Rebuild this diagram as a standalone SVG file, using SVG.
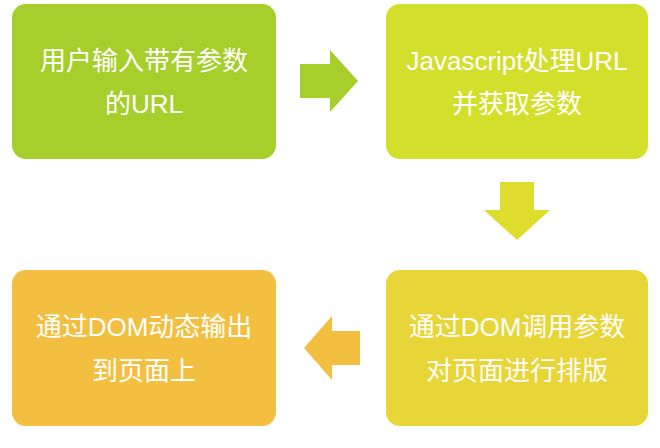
<svg xmlns="http://www.w3.org/2000/svg" width="660" height="448" viewBox="0 0 660 448">
<style>
text{font-family:"Liberation Sans","Noto Sans CJK SC",sans-serif;font-size:26px;fill:#fff;text-anchor:middle}
</style>
<rect width="660" height="448" fill="#fff"/>
<g id="n1"><rect x="12" y="4" width="264" height="155" rx="14" fill="#a6cf2b"/><text x="144" y="70">用户输入带有参数</text><text x="144" y="113">的URL</text></g>
<g id="n2"><rect x="386" y="4" width="262" height="155" rx="14" fill="#d2df2b"/><text x="517" y="70">Javascript处理URL</text><text x="517" y="113">并获取参数</text></g>
<g id="n3"><rect x="386" y="270" width="262" height="156" rx="14" fill="#e8d537"/><text x="517" y="336">通过DOM调用参数</text><text x="517" y="380">对页面进行排版</text></g>
<g id="n4"><rect x="12" y="270" width="264" height="156" rx="14" fill="#f3bf40"/><text x="144" y="336">通过DOM动态输出</text><text x="144" y="380">到页面上</text></g>
<g id="connectors">
<polygon points="300,64 330,64 330,50 358,81 330,112 330,98 300,98" fill="#a6cf2b"/>
<polygon points="500,182 534,182 534,210 550,210 517,240 484,210 500,210" fill="#dedc2c"/>
<polygon points="360,331 332,331 332,316 304,348 332,380 332,365 360,365" fill="#f3bf40"/>
</g>
</svg>
